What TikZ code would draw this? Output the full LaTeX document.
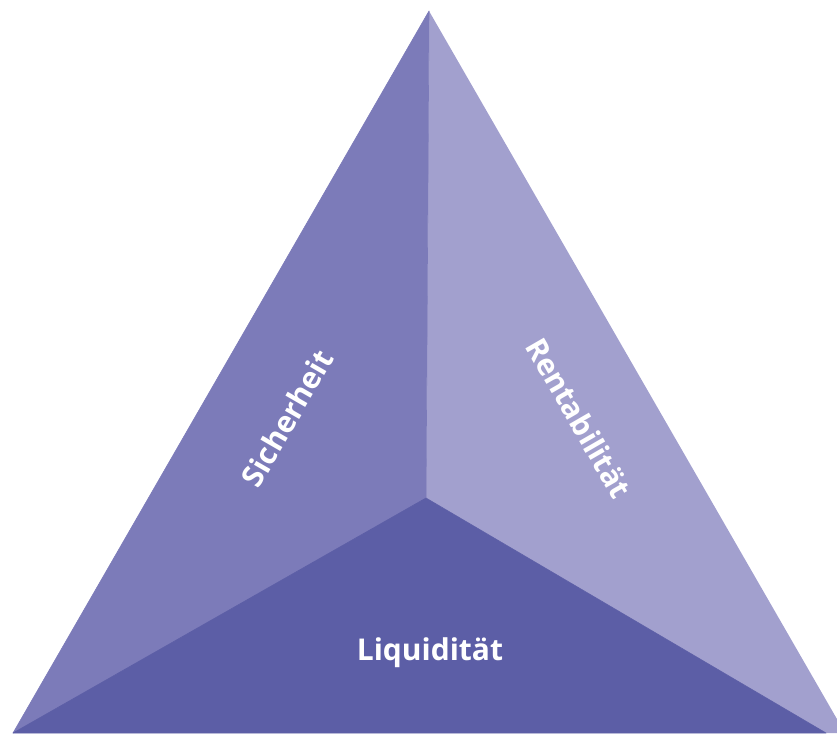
\documentclass[tikz,border=0pt]{standalone}
\usepackage{fontspec}
\setsansfont{Open Sans}
\begin{document}
\begin{tikzpicture}[x=1pt,y=-1pt,
  lbl/.style={text=white,font=\sffamily\bfseries\fontsize{30}{32}\selectfont,inner sep=0pt}]
\definecolor{leftc}{HTML}{7C7BB9}
\definecolor{rightc}{HTML}{A2A0CE}
\definecolor{botc}{HTML}{5C5EA6}
\useasboundingbox (0,0) rectangle (837,733);
\clip (0,0) rectangle (837,733);
\coordinate (A) at (429,11);
\coordinate (C) at (426,498);
\coordinate (L) at (13,733);
\coordinate (R) at (845,733);
\coordinate (D) at (826,733);
\fill[rightc] (A) -- (R) -- (D) -- (C) -- cycle;
\filldraw[leftc,line width=0.6pt,line join=round] (A) -- (C) -- (L) -- cycle;
\filldraw[botc,line width=0.6pt,line join=round] (L) -- (C) -- (D) -- cycle;
\node[lbl,rotate=60] (s) at (287,418) {Sicherheit};
\node[lbl,rotate=-60] (r) at (579,418) {Rentabilität};
\node[lbl] (q) at (430,653) {Liquidität};
\end{tikzpicture}
\end{document}
